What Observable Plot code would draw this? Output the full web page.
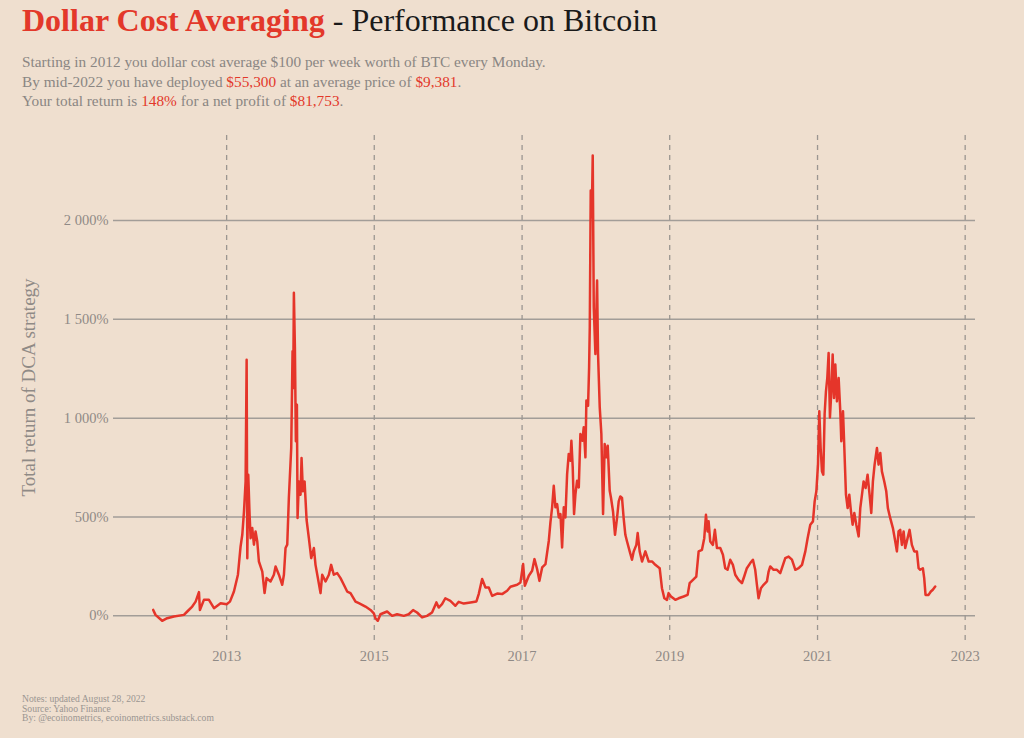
<!DOCTYPE html>
<html>
<head>
<meta charset="utf-8">
<script src="https://cdn.jsdelivr.net/npm/d3@7"></script>
<script src="https://cdn.jsdelivr.net/npm/@observablehq/plot@0.6"></script>
<style>
  html, body { margin: 0; padding: 0; background: #efdfcf; }
  body { width: 1024px; height: 738px; position: relative; overflow: hidden; font-family: "Liberation Serif", serif; }
  #title { position: absolute; left: 22px; top: 2px; font-size: 32px; white-space: nowrap; color: #1a1a1a; }
  #title .red { color: #e3382a; font-weight: bold; }
  #subtitle { position: absolute; left: 22px; top: 52px; font-size: 15.3px; line-height: 19.5px; color: #8a8683; white-space: nowrap; }
  #subtitle .red { color: #e3382a; }
  #chart { position: absolute; left: 0; top: 125px; }
  #notes { position: absolute; left: 22px; top: 694px; font-size: 9.6px; line-height: 9.7px; color: #9a9591; white-space: nowrap; }
</style>
</head>
<body>
<div id="title"><span class="red">Dollar Cost Averaging</span> - Performance on Bitcoin</div>
<div id="subtitle">
  Starting in 2012 you dollar cost average $100 per week worth of BTC every Monday.<br>
  By mid-2022 you have deployed <span class="red">$55,300</span> at an average price of <span class="red">$9,381</span>.<br>
  Your total return is <span class="red">148%</span> for a net profit of <span class="red">$81,753</span>.
</div>
<div id="chart"></div>
<div id="notes">Notes: updated August 28, 2022<br>Source: Yahoo Finance<br>By: @ecoinometrics, ecoinometrics.substack.com</div>
<script>
// Time of observation (decimal years) and total return of the DCA strategy (%)
const years = [
  2012.008, 2012.039, 2012.129, 2012.197, 2012.287, 2012.423, 2012.468, 2012.535, 2012.581, 2012.626,
  2012.639, 2012.693, 2012.761, 2012.829, 2012.919, 2013.000, 2013.045, 2013.099, 2013.153, 2013.189,
  2013.212, 2013.235, 2013.257, 2013.271, 2013.280, 2013.293, 2013.311, 2013.325, 2013.347, 2013.370,
  2013.392, 2013.415, 2013.437, 2013.483, 2013.514, 2013.541, 2013.595, 2013.640, 2013.663, 2013.708,
  2013.753, 2013.776, 2013.798, 2013.821, 2013.843, 2013.875, 2013.893, 2013.902, 2013.911, 2013.925,
  2013.938, 2013.952, 2013.961, 2013.979, 2014.001, 2014.015, 2014.033, 2014.056, 2014.083, 2014.114,
  2014.146, 2014.182, 2014.204, 2014.236, 2014.272, 2014.295, 2014.340, 2014.385, 2014.416, 2014.452,
  2014.498, 2014.543, 2014.588, 2014.633, 2014.678, 2014.746, 2014.791, 2014.836, 2014.881, 2014.949,
  2014.994, 2015.016, 2015.048, 2015.084, 2015.174, 2015.242, 2015.309, 2015.400, 2015.467, 2015.526,
  2015.580, 2015.648, 2015.715, 2015.783, 2015.842, 2015.873, 2015.918, 2015.963, 2016.031, 2016.099,
  2016.144, 2016.212, 2016.302, 2016.383, 2016.414, 2016.460, 2016.505, 2016.550, 2016.595, 2016.663,
  2016.730, 2016.798, 2016.843, 2016.933, 2016.978, 2017.014, 2017.037, 2017.091, 2017.136, 2017.168,
  2017.204, 2017.235, 2017.272, 2017.317, 2017.362, 2017.384, 2017.407, 2017.429, 2017.452, 2017.475,
  2017.497, 2017.520, 2017.542, 2017.565, 2017.587, 2017.610, 2017.632, 2017.655, 2017.668, 2017.686,
  2017.704, 2017.723, 2017.745, 2017.768, 2017.790, 2017.817, 2017.835, 2017.858, 2017.871, 2017.894,
  2017.908, 2017.917, 2017.930, 2017.944, 2017.957, 2017.971, 2017.993, 2018.016, 2018.029, 2018.052,
  2018.074, 2018.097, 2018.119, 2018.142, 2018.160, 2018.187, 2018.205, 2018.232, 2018.259, 2018.286,
  2018.309, 2018.331, 2018.354, 2018.376, 2018.399, 2018.422, 2018.458, 2018.489, 2018.512, 2018.548,
  2018.566, 2018.593, 2018.625, 2018.670, 2018.715, 2018.760, 2018.805, 2018.864, 2018.895, 2018.927,
  2018.963, 2018.985, 2019.017, 2019.076, 2019.121, 2019.188, 2019.243, 2019.270, 2019.315, 2019.360,
  2019.392, 2019.437, 2019.468, 2019.491, 2019.513, 2019.527, 2019.549, 2019.585, 2019.612, 2019.640,
  2019.685, 2019.721, 2019.752, 2019.784, 2019.820, 2019.856, 2019.888, 2019.933, 2019.978, 2020.009,
  2020.045, 2020.091, 2020.127, 2020.158, 2020.181, 2020.203, 2020.235, 2020.271, 2020.316, 2020.339,
  2020.361, 2020.406, 2020.451, 2020.496, 2020.564, 2020.609, 2020.654, 2020.700, 2020.745, 2020.790,
  2020.835, 2020.866, 2020.902, 2020.938, 2020.961, 2020.984, 2021.006, 2021.024, 2021.042, 2021.060,
  2021.078, 2021.096, 2021.114, 2021.132, 2021.150, 2021.168, 2021.187, 2021.205, 2021.223, 2021.241,
  2021.263, 2021.286, 2021.308, 2021.322, 2021.345, 2021.363, 2021.385, 2021.408, 2021.430, 2021.453,
  2021.475, 2021.498, 2021.525, 2021.557, 2021.579, 2021.602, 2021.624, 2021.651, 2021.678, 2021.705,
  2021.728, 2021.750, 2021.773, 2021.805, 2021.827, 2021.850, 2021.872, 2021.904, 2021.931, 2021.953,
  2021.985, 2022.021, 2022.053, 2022.075, 2022.098, 2022.120, 2022.143, 2022.166, 2022.188, 2022.220,
  2022.247, 2022.278, 2022.310, 2022.346, 2022.369, 2022.391, 2022.427, 2022.445, 2022.463, 2022.504,
  2022.535, 2022.562, 2022.594
];
const returns = [
  30, 5, -25, -12, -3, 5, 22, 47, 72, 120,
  30, 81, 81, 39, 64, 59, 72, 123, 208, 351,
  410, 528, 680, 1296, 292, 714, 511, 393, 444, 360,
  427, 376, 275, 224, 115, 191, 174, 208, 250, 208,
  157, 208, 343, 360, 596, 849, 1338, 1153, 1634, 1355,
  883, 1068, 495, 680, 613, 798, 630, 680, 486, 393,
  292, 343, 258, 191, 115, 208, 174, 208, 258, 208,
  216, 191, 157, 123, 115, 72, 64, 56, 47, 30,
  13, -12, -25, 8, 22, 0, 8, 0, 8, 29,
  17, -8, 0, 17, 68, 42, 59, 89, 76, 51,
  71, 62, 68, 73, 110, 186, 143, 143, 101, 113,
  110, 127, 147, 157, 169, 262, 152, 203, 228, 287,
  236, 177, 245, 262, 380, 473, 549, 658, 549, 565,
  498, 515, 346, 549, 498, 717, 819, 785, 886, 751,
  515, 616, 684, 650, 920, 886, 954, 802, 1089, 1063,
  1257, 1460, 2152, 2017, 2329, 1561, 1325, 1696, 1325, 1055,
  920, 515, 869, 802, 861, 633, 596, 528, 410, 494,
  579, 604, 596, 494, 410, 376, 326, 284, 326, 359,
  419, 326, 275, 326, 275, 275, 258, 241, 140, 89,
  81, 115, 98, 81, 89, 98, 106, 165, 182, 199,
  326, 334, 393, 511, 427, 478, 376, 359, 435, 343,
  343, 309, 241, 233, 284, 258, 208, 182, 165, 199,
  241, 267, 284, 233, 157, 89, 140, 157, 174, 224,
  250, 233, 233, 216, 292, 300, 284, 233, 241, 258,
  326, 393, 461, 478, 579, 630, 765, 1035, 849, 731,
  714, 1021, 1136, 1203, 1330, 1004, 1136, 1322, 1102, 1271,
  1085, 1203, 1035, 883, 1035, 849, 613, 545, 613, 528,
  461, 520, 461, 402, 545, 613, 680, 647, 714, 613,
  520, 680, 765, 849, 765, 824, 731, 680, 630, 545,
  494, 444, 376, 326, 427, 435, 359, 427, 343, 393,
  435, 359, 326, 326, 241, 233, 241, 191, 106, 106,
  123, 132, 148
];
const xTickYears = [2013, 2015, 2017, 2019, 2021, 2023];
const yTicks = [0, 500, 1000, 1500, 2000];
const xDomainYears = [2011.47, 2023.14];
const yDomain = [-150, 2430];
const yLabel = "Total return of DCA strategy";

function toDate(t) {
  const y = Math.floor(t);
  const a = Date.UTC(y, 0, 1), b = Date.UTC(y + 1, 0, 1);
  return new Date(a + (t - y) * (b - a));
}
const data = years.map((t, i) => ({date: toDate(t), value: returns[i]}));
const xTicks = xTickYears.map(toDate);
const fmtPct = d => d3.format(",")(d).replace(/,/g, " ") + "%";

const chart = Plot.plot({
  width: 1024,
  height: 545,
  marginTop: 10,
  marginBottom: 25,
  marginLeft: 113,
  marginRight: 49,
  style: {background: "transparent", fontFamily: "Liberation Serif, serif", fontSize: "14.5px", color: "#8f8a86"},
  x: {type: "utc", domain: xDomainYears.map(toDate), ticks: xTicks, tickFormat: d => String(d.getUTCFullYear()), tickSize: 0, tickPadding: 5, label: null},
  y: {domain: yDomain, ticks: yTicks, tickFormat: fmtPct, tickSize: 0, tickPadding: 5, label: null},
  marks: [
    Plot.ruleY(yTicks, {stroke: "#a29d98", strokeWidth: 1.5}),
    Plot.ruleX(xTicks, {stroke: "#9b9691", strokeWidth: 1.3, strokeDasharray: "5,5"}),
    Plot.lineY(data, {x: "date", y: "value", stroke: "#e5352a", strokeWidth: 2.5}),
    Plot.text([yLabel], {frameAnchor: "left", text: d => d, rotate: -90, textAnchor: "middle", dx: -85, dy: -3, fontSize: 19, fill: "#8f8a86"})
  ]
});
document.getElementById("chart").appendChild(chart);
</script>
</body>
</html>
